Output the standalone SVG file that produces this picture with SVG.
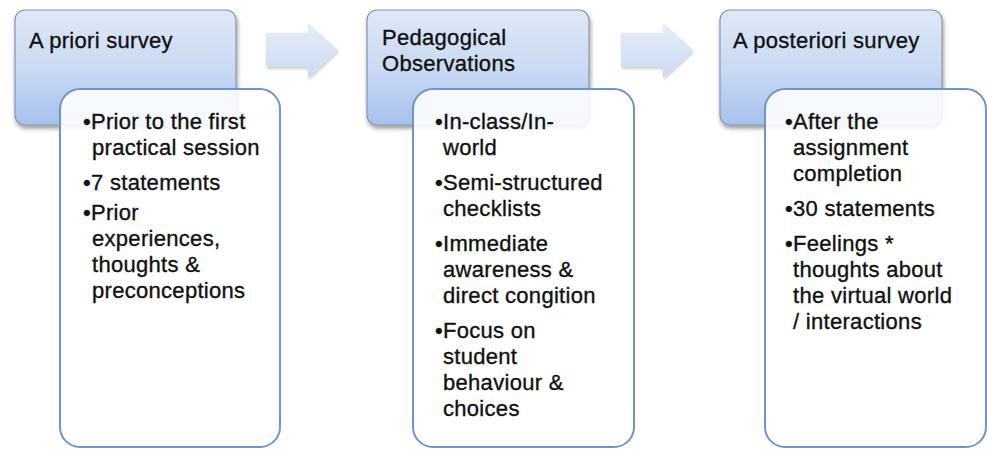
<svg xmlns="http://www.w3.org/2000/svg" width="987" height="449" viewBox="0 0 987 449">
<defs>
<linearGradient id="hdr" x1="0" y1="0" x2="0" y2="1">
<stop offset="0" stop-color="#dfe8f7"/>
<stop offset="0.5" stop-color="#cadaf3"/>
<stop offset="1" stop-color="#a6c2ee"/>
</linearGradient>
<linearGradient id="det" x1="0" y1="0" x2="0" y2="1">
<stop offset="0" stop-color="#ffffff" stop-opacity="0.88"/>
<stop offset="1" stop-color="#ffffff" stop-opacity="0.95"/>
</linearGradient>
<linearGradient id="arr" x1="0" y1="0" x2="0" y2="1">
<stop offset="0" stop-color="#e6edf9"/>
<stop offset="1" stop-color="#cbdaf3"/>
</linearGradient>
<filter id="sh" x="-10%" y="-10%" width="125%" height="130%">
<feDropShadow dx="1" dy="3" stdDeviation="2" flood-color="#000" flood-opacity="0.4"/>
</filter>
<filter id="ash" x="-10%" y="-10%" width="125%" height="130%">
<feDropShadow dx="1" dy="2" stdDeviation="1.5" flood-color="#000" flood-opacity="0.2"/>
</filter>
</defs>
<style>
.hdr{fill:url(#hdr);stroke:#8896ad;stroke-width:1.2;filter:url(#sh)}
.det{fill:url(#det);stroke:#6f94c9;stroke-width:2}
.arr{fill:url(#arr);filter:url(#ash)}
text{font-family:"Liberation Sans",Arial,sans-serif;font-size:22px;fill:#111;stroke:#111;stroke-width:0.35;letter-spacing:0.3px}
</style>
<rect width="987" height="449" fill="#ffffff"/>
<g id="connectors">
<path class="arr" d="M266,33 H308 V23 L338,50 L308,78 V67 H266 Z"/>
<path class="arr" d="M621,33 H663 V23 L693,50 L663,78 V67 H621 Z"/>
</g>
<g id="node-a-priori">
<rect class="hdr" x="15" y="10" width="221" height="115" rx="10"/>
<text x="29" y="48">A priori survey</text>
<rect class="det" x="60" y="89" width="220" height="358" rx="20"/>
<text x="83" y="129">•Prior to the first</text>
<text x="92" y="155">practical session</text>
<text x="83" y="190">•7 statements</text>
<text x="83" y="220">•Prior</text>
<text x="92" y="246">experiences,</text>
<text x="92" y="272">thoughts &amp;</text>
<text x="92" y="298">preconceptions</text>
</g>
<g id="node-pedagogical">
<rect class="hdr" x="367" y="10" width="222" height="115" rx="10"/>
<text x="382" y="45">Pedagogical</text>
<text x="382" y="71">Observations</text>
<rect class="det" x="413" y="89" width="221" height="358" rx="20"/>
<text x="435" y="129">•In-class/In-</text>
<text x="443" y="155">world</text>
<text x="435" y="190">•Semi-structured</text>
<text x="443" y="216">checklists</text>
<text x="435" y="251">•Immediate</text>
<text x="443" y="277">awareness &amp;</text>
<text x="443" y="303">direct congition</text>
<text x="435" y="338">•Focus on</text>
<text x="443" y="364">student</text>
<text x="443" y="390">behaviour &amp;</text>
<text x="443" y="416">choices</text>
</g>
<g id="node-a-posteriori">
<rect class="hdr" x="720" y="10" width="222" height="115" rx="10"/>
<text x="733" y="48">A posteriori survey</text>
<rect class="det" x="765" y="89" width="221" height="358" rx="20"/>
<text x="785" y="129">•After the</text>
<text x="793" y="155">assignment</text>
<text x="793" y="181">completion</text>
<text x="785" y="216">•30 statements</text>
<text x="785" y="251">•Feelings *</text>
<text x="793" y="277">thoughts about</text>
<text x="793" y="303">the virtual world</text>
<text x="793" y="329">/ interactions</text>
</g>
</svg>
